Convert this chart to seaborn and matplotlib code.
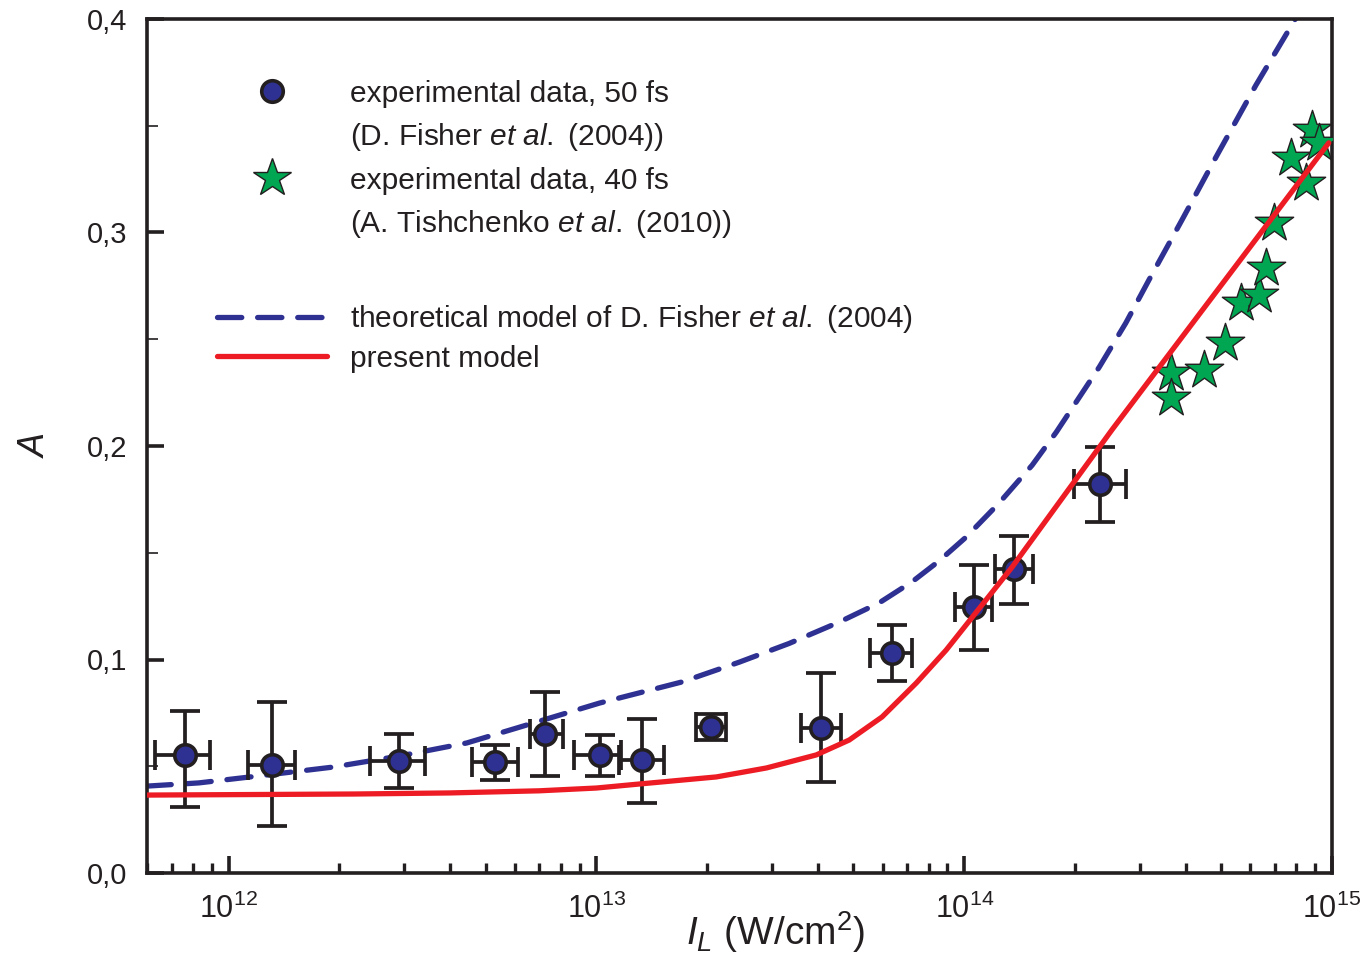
import numpy as np
import pandas as pd
import matplotlib
matplotlib.use("Agg")
import matplotlib.pyplot as plt
import seaborn as sns
from matplotlib.lines import Line2D
from matplotlib.ticker import LogLocator, MultipleLocator, FuncFormatter

# ---------------- data ----------------
exp50_I = [7.6e11, 1.31e12, 2.9e12, 5.3e12, 7.27e12, 1.02e13, 1.33e13, 2.05e13,
           4.08e13, 6.37e13, 1.06e14, 1.37e14, 2.34e14]
exp50_A = [0.0553, 0.0506, 0.0525, 0.0520, 0.0651, 0.0553, 0.0530, 0.0684,
           0.0680, 0.1030, 0.1246, 0.1424, 0.1822]
exp50_A_lo = [0.0310, 0.0220, 0.0400, 0.0436, 0.0454, 0.0454, 0.0328, 0.0623,
              0.0426, 0.0900, 0.1044, 0.1260, 0.1644]
exp50_A_hi = [0.0759, 0.0800, 0.0650, 0.0600, 0.0848, 0.0646, 0.0720, 0.0745,
              0.0937, 0.1160, 0.1443, 0.1580, 0.1995]
exp50_I_lo = [6.3e11, 1.13e12, 2.42e12, 4.6e12, 6.58e12, 8.71e12, 1.155e13, 1.87e13,
              3.6e13, 5.56e13, 9.46e13, 1.21e14, 1.99e14]
exp50_I_hi = [8.88e11, 1.52e12, 3.41e12, 6.14e12, 8.09e12, 1.17e13, 1.53e13, 2.25e13,
              4.63e13, 7.23e13, 1.19e14, 1.54e14, 2.75e14]

exp40_I = [3.65e14, 3.65e14, 4.49e14, 5.12e14, 5.66e14, 6.34e14, 6.62e14, 6.95e14,
           7.74e14, 8.5e14, 8.83e14, 9.23e14]
exp40_A = [0.2342, 0.2225, 0.2356, 0.2482, 0.2670, 0.2707, 0.2834, 0.3045,
           0.3350, 0.3230, 0.3480, 0.3420]

present_I = [6.0e11, 2.2e12, 4.0e12, 7.0e12, 1.0e13, 1.33e13, 2.12e13, 2.9e13,
             3.96e13, 4.87e13, 5.98e13, 7.41e13, 8.93e13, 1.35e14, 2.52e14, 9.8e14]
present_A = [0.0365, 0.0370, 0.0375, 0.0385, 0.0398, 0.0418, 0.0450, 0.0492,
             0.0553, 0.0623, 0.0731, 0.0890, 0.1044, 0.1433, 0.2075, 0.3420]

fisher_I = [6.0e11, 8.3e11, 1.27e12, 1.92e12, 2.92e12, 4.44e12, 6.07e12, 1.02e13,
            1.71e13, 2.45e13, 3.34e13, 4.57e13, 5.87e13, 7.23e13, 8.55e13, 1.01e14,
            1.24e14, 1.53e14, 1.78e14, 2.33e14, 2.75e14, 3.18e14, 3.91e14, 4.84e14,
            6.21e14, 7.98e14]
fisher_A = [0.0407, 0.0422, 0.0459, 0.0496, 0.0548, 0.0609, 0.0679, 0.0796,
            0.0895, 0.0988, 0.1075, 0.1175, 0.1265, 0.1365, 0.1462, 0.1572,
            0.1730, 0.1910, 0.2065, 0.2370, 0.2576, 0.2778, 0.3059, 0.3354,
            0.3690, 0.4005]

legend_points = ["experimental data, 50 fs",
                 r"(D. Fisher $\mathit{et\ al.}$ (2004))",
                 "experimental data, 40 fs",
                 r"(A. Tishchenko $\mathit{et\ al.}$ (2010))"]
legend_lines = [r"theoretical model of D. Fisher $\mathit{et\ al.}$ (2004)",
                "present model"]

# ---------------- style ----------------
sns.set_style("ticks")
plt.rcParams["font.family"] = ["Liberation Sans", "DejaVu Sans"]
plt.rcParams["mathtext.fontset"] = "custom"
plt.rcParams["mathtext.rm"] = "Liberation Sans"
plt.rcParams["mathtext.it"] = "Liberation Sans:italic"
plt.rcParams["mathtext.bf"] = "Liberation Sans:bold"
plt.rcParams["text.color"] = "#231F20"

NAVY = "#2E3192"
RED = "#ED1C24"
GREEN = "#00A651"
DARK = "#231F20"

fig = plt.figure(figsize=(13.62, 9.59), dpi=100)
ax = fig.add_axes([147 / 1362, 1 - 873 / 959, 1185 / 1362, 854 / 959])
ax.set_xscale("log")

df_f = pd.DataFrame({"I": fisher_I, "A": fisher_A})
df_p = pd.DataFrame({"I": present_I, "A": present_A})
df_s = pd.DataFrame({"I": exp40_I, "A": exp40_A})
df_c = pd.DataFrame({"I": exp50_I, "A": exp50_A})

# dashed theoretical model
sns.lineplot(data=df_f, x="I", y="A", ax=ax, color=NAVY, lw=3.8, sort=False,
             zorder=2, estimator=None)
fl = ax.lines[-1]
fl.set_dashes([4.6, 3.0])
fl.set_dash_capstyle("round")

# error bars
I = np.array(exp50_I)
A = np.array(exp50_A)
ax.errorbar(I, A,
            xerr=[I - np.array(exp50_I_lo), np.array(exp50_I_hi) - I],
            yerr=[A - np.array(exp50_A_lo), np.array(exp50_A_hi) - A],
            fmt="none", ecolor=DARK, elinewidth=2.7, capsize=10.5, capthick=2.7,
            zorder=3)
sns.scatterplot(data=df_c, x="I", y="A", ax=ax, marker="o", s=240, color=NAVY,
                edgecolor=DARK, linewidth=2.6, zorder=4)

# stars
sns.scatterplot(data=df_s, x="I", y="A", ax=ax, marker="*", s=841, color=GREEN,
                edgecolor=DARK, linewidth=1.0, zorder=4)

# present model
sns.lineplot(data=df_p, x="I", y="A", ax=ax, color=RED, lw=3.8, sort=False,
             zorder=5, estimator=None)
ax.lines[-1].set_solid_capstyle("round")

# ---------------- axes ----------------
ax.set_xlim(6e11, 1e15)
ax.set_ylim(0, 0.4)
for s in ax.spines.values():
    s.set_visible(True)
    s.set_linewidth(2.6)
    s.set_color(DARK)

ax.xaxis.set_major_locator(LogLocator(base=10, numticks=10))
ax.xaxis.set_minor_locator(LogLocator(base=10, subs=np.arange(2, 10), numticks=20))
ax.yaxis.set_major_locator(MultipleLocator(0.1))
ax.yaxis.set_minor_locator(MultipleLocator(0.05))
ax.yaxis.set_major_formatter(FuncFormatter(lambda v, p: f"{v:.1f}".replace(".", ",")))

ax.tick_params(which="both", direction="in", top=False, right=False, color=DARK)
ax.tick_params(which="major", length=12, width=2.6, labelsize=21, pad=14,
               labelcolor=DARK)
ax.tick_params(axis="x", which="major", labelsize=22, pad=15)
ax.tick_params(axis="x", which="minor", length=7, width=2.4)
ax.tick_params(axis="y", which="minor", length=8, width=1.2)

ax.set_xlabel(r"$I_L$ (W/cm$^2$)", fontsize=28, color=DARK)
ax.xaxis.set_label_coords(0.53, -0.042)
ax.set_ylabel("A", fontsize=26, fontstyle="italic", color=DARK)
ax.yaxis.set_label_coords(-0.079, 0.5)

# ---------------- legends ----------------
fs = 21.5
h_pts = [Line2D([], [], ls="none", marker="o", ms=15.5, mfc=NAVY, mec=DARK, mew=2.6),
         Line2D([], [], ls="none"),
         Line2D([], [], ls="none", marker="*", ms=29, mfc=GREEN, mec=DARK, mew=1.0),
         Line2D([], [], ls="none")]
leg1 = ax.legend(h_pts, legend_points, loc="upper left",
                 bbox_to_anchor=(0.059, 0.929), frameon=False, fontsize=fs,
                 handlelength=3.68, handletextpad=0.77, borderpad=0,
                 borderaxespad=0, labelspacing=0.45)
ax.add_artist(leg1)

h_ln = [Line2D([], [], color=NAVY, lw=3.8, dashes=[4.6, 3.0], dash_capstyle="round"),
        Line2D([], [], color=RED, lw=3.8, solid_capstyle="round")]
leg2 = ax.legend(h_ln, legend_lines, loc="upper left",
                 bbox_to_anchor=(0.059, 0.667), frameon=False, fontsize=fs,
                 handlelength=3.68, handletextpad=0.77, borderpad=0,
                 borderaxespad=0, labelspacing=0.32)

fig.savefig("out.png", dpi=100)
